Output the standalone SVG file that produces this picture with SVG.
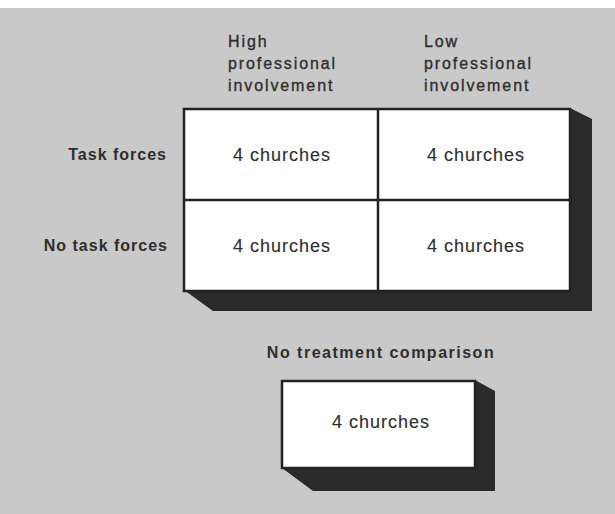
<svg xmlns="http://www.w3.org/2000/svg" width="615" height="514" viewBox="0 0 615 514">
  <style>
    text { font-family: "Liberation Sans", Arial, Helvetica, sans-serif; fill: #2e2e2e; }
    .hdr { font-size: 16px; letter-spacing: 1.9px; stroke: #2e2e2e; stroke-width: 0.35px; }
    .row { font-size: 16px; font-weight: bold; letter-spacing: 1px; text-anchor: end; }
    .cell { font-size: 18px; letter-spacing: 1px; text-anchor: middle; stroke: #2e2e2e; stroke-width: 0.15px; }
    .ttl { font-size: 16px; font-weight: bold; letter-spacing: 1.5px; text-anchor: middle; }
    .box { fill: #ffffff; stroke: #222222; stroke-width: 2.5; }
    .div { stroke: #222222; stroke-width: 2.5; }
    .shadow { fill: #2a2a2a; }
  </style>
  <rect x="0" y="0" width="615" height="514" fill="#ffffff"/>
  <rect x="0" y="8" width="615" height="506" fill="#c9c9c9"/>

  <g id="header-high">
    <text class="hdr" x="228" y="47">High</text>
    <text class="hdr" x="228" y="69">professional</text>
    <text class="hdr" x="228" y="91">involvement</text>
  </g>
  <g id="header-low">
    <text class="hdr" x="424" y="47">Low</text>
    <text class="hdr" x="424" y="69">professional</text>
    <text class="hdr" x="424" y="91">involvement</text>
  </g>
  <g id="label-task-forces">
    <text class="row" x="167" y="160">Task forces</text>
  </g>
  <g id="label-no-task-forces">
    <text class="row" x="168" y="251">No task forces</text>
  </g>

  <g id="grid">
    <polygon class="shadow" points="570,108 592,119 592,311 213,311 184,290 570,290"/>
    <rect class="box" x="184" y="109" width="386" height="182"/>
    <line class="div" x1="378" y1="109" x2="378" y2="291"/>
    <line class="div" x1="184" y1="200" x2="570" y2="200"/>
  </g>
  <g id="cell-high-task">
    <text class="cell" x="282" y="161">4 churches</text>
  </g>
  <g id="cell-low-task">
    <text class="cell" x="476" y="161">4 churches</text>
  </g>
  <g id="cell-high-notask">
    <text class="cell" x="282" y="252">4 churches</text>
  </g>
  <g id="cell-low-notask">
    <text class="cell" x="476" y="252">4 churches</text>
  </g>

  <g id="no-treatment">
    <text class="ttl" x="381" y="358">No treatment comparison</text>
    <polygon class="shadow" points="475,380 495,391 495,491 313,491 282,468 475,468"/>
    <rect class="box" x="282" y="381" width="193" height="87"/>
    <text class="cell" x="381" y="428">4 churches</text>
  </g>
  <g id="connectors"></g>
</svg>
